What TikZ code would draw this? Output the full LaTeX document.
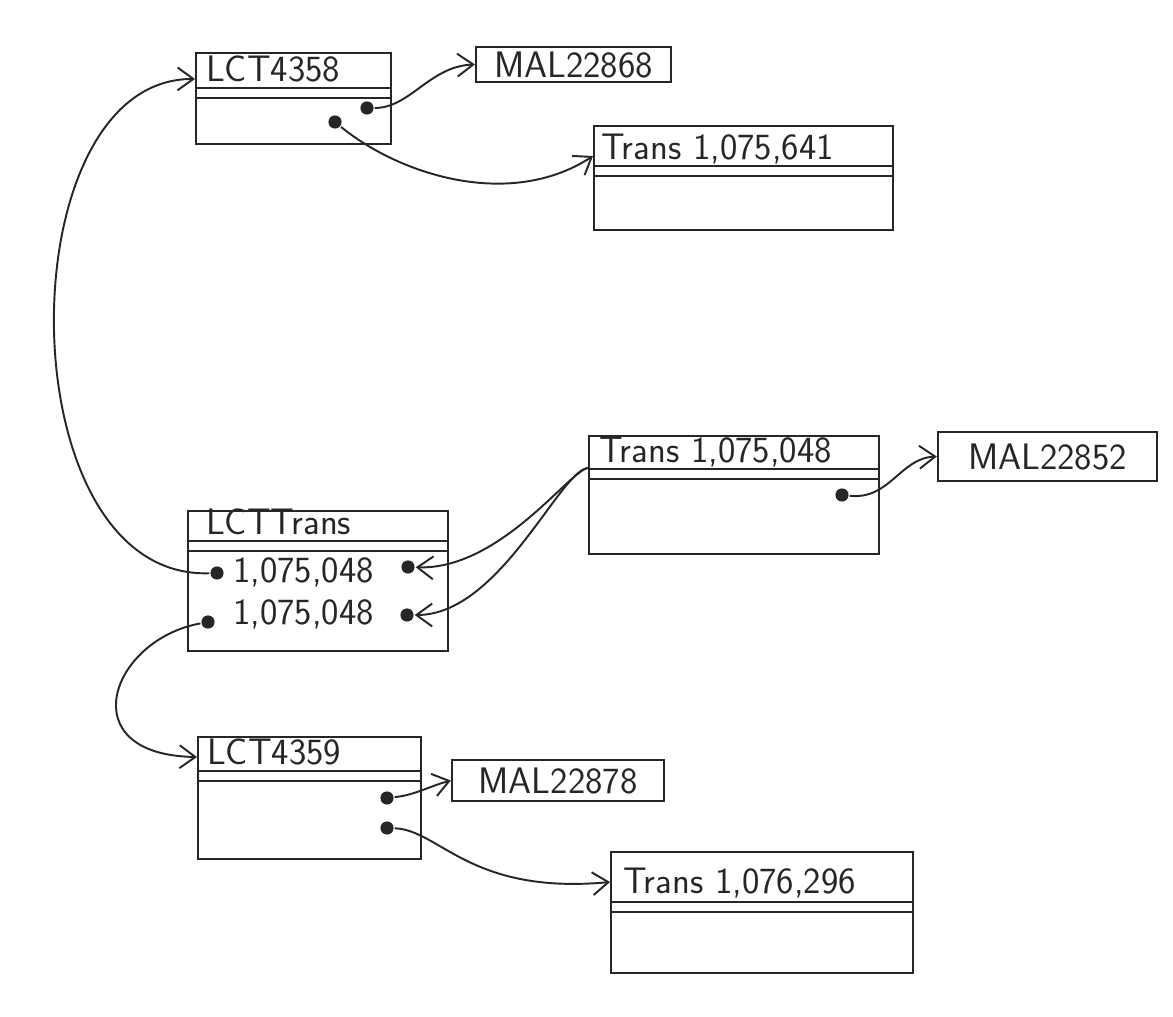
\documentclass[tikz,border=0pt]{standalone}
\usepackage{tikz}
\usetikzlibrary{arrows.meta}

\newcommand{\pxu}{0.02cm}
\newcommand{\hand}{\sffamily\fontsize{21}{25}\selectfont}

\tikzset{
  recbox/.style={draw, anchor=north west, inner sep=0pt},
  malbox/.style={draw, inner sep=0pt, font=\hand},
  head/.style={anchor=base west, inner sep=0pt, font=\hand},
  dot/.style={circle, fill, inner sep=0pt, minimum size=7.5pt},
  link/.style={line width=1.1pt, -{Straight Barb[length=9pt, width=13pt]}},
}

\begin{document}
\begin{tikzpicture}[x=\pxu, y=-\pxu, line width=1.3pt, color=black!85]
  \useasboundingbox (0,0) rectangle (1173,1017);

  \node[recbox, minimum width=195*\pxu, minimum height=91*\pxu] (lct4358) at (195,52) {};
  \node[recbox, minimum width=299*\pxu, minimum height=104*\pxu] (trans641) at (593,125) {};
  \node[recbox, minimum width=290*\pxu, minimum height=118*\pxu] (trans048) at (588,435) {};
  \node[recbox, minimum width=260*\pxu, minimum height=140*\pxu] (lcttrans) at (187,510) {};
  \node[recbox, minimum width=223*\pxu, minimum height=122*\pxu] (lct4359) at (197,736) {};
  \node[recbox, minimum width=302*\pxu, minimum height=121*\pxu] (trans296) at (610,851) {};

  \node[malbox, minimum width=195*\pxu, minimum height=35*\pxu] (mal22868) at (573.5,64.5) {MAL22868};
  \node[malbox, minimum width=219*\pxu, minimum height=49*\pxu] (mal22852) at (1047.5,456.5) {MAL22852};
  \node[malbox, minimum width=212*\pxu, minimum height=41*\pxu] (mal22878) at (558,780.5) {MAL22878};

  \foreach \n/\y in {lct4358/88, trans641/166, trans048/469, lcttrans/541, lct4359/771, trans296/902}
    \draw (\n.west |- 0,\y) -- (\n.east |- 0,\y) (\n.west |- 0,\y+10) -- (\n.east |- 0,\y+10);

  \node[head] (lct4358-t) at (205,82) {LCT4358};
  \node[head] (trans641-t) at (600,159) {Trans 1,075,641};
  \node[head] (trans048-t) at (598,462) {Trans 1,075,048};
  \node[head] (lcttrans-t) at (205,534) {LCTTrans};
  \node[head] (lcttrans-r1) at (232,582) {1,075,048};
  \node[head] (lcttrans-r2) at (232,624) {1,075,048};
  \node[head] (lct4359-t) at (206,764) {LCT4359};
  \node[head] (trans296-t) at (622,893) {Trans 1,076,296};

  \node[dot] (lct4358-d1) at (367,108) {};
  \node[dot] (lct4358-d2) at (335,122) {};
  \node[dot] (trans048-d1) at (842,495) {};
  \node[dot] (lcttrans-d1) at (217,573) {};
  \node[dot] (lcttrans-d2) at (408,567) {};
  \node[dot] (lcttrans-d3) at (208,622) {};
  \node[dot] (lcttrans-d4) at (407,615) {};
  \node[dot] (lct4359-d1) at (387,798) {};
  \node[dot] (lct4359-d2) at (387,828) {};

  \draw[link] (lcttrans-d1) .. controls (5,580) and (5,78) .. (lct4358.west |- 0,79);
  \draw[link] (lct4358-d1) .. controls (410,108) and (430,66) .. (mal22868.west);
  \draw[link] (lct4358-d2) .. controls (400,175) and (510,210) .. (trans641.west |- 0,156);
  \draw[link] (trans048-d1) .. controls (890,500) and (900,458) .. (mal22852.west);
  \draw[link] (trans048.west |- 0,468) .. controls (570,470) and (500,570) .. (lcttrans-d2);
  \draw[link] (trans048.west |- 0,468) .. controls (560,470) and (500,615) .. (lcttrans-d4);
  \draw[link] (lcttrans-d3) .. controls (110,640) and (70,755) .. (lct4359.west |- 0,757);
  \draw[link] (lct4359-d1) .. controls (415,795) and (430,786) .. (mal22878.west);
  \draw[link] (lct4359-d2) .. controls (440,830) and (470,895) .. (trans296.west |- 0,882);
\end{tikzpicture}
\end{document}
